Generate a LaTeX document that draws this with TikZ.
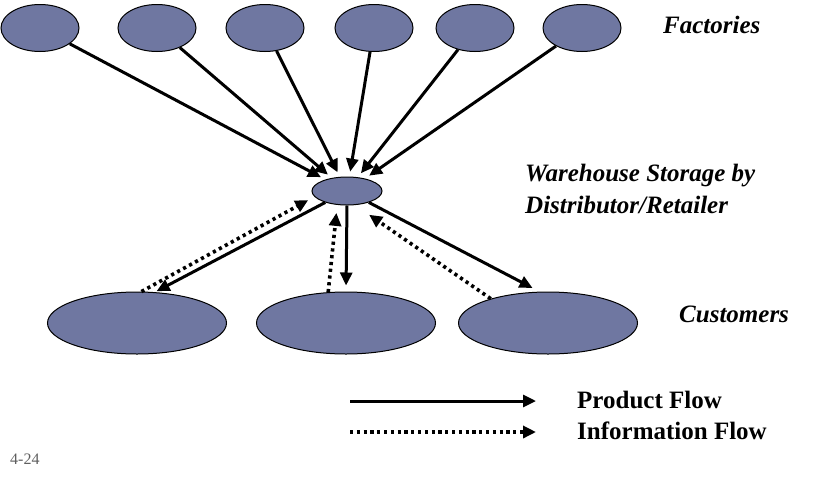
\documentclass[tikz,border=0pt]{standalone}
\usepackage{fontspec}
\setmainfont{Liberation Serif}
\usepackage{xcolor}
\usepackage{tikz}
\usetikzlibrary{arrows.meta,shapes.geometric}

\definecolor{siteblue}{RGB}{111,119,161}
\definecolor{pagegray}{RGB}{95,95,95}

\tikzset{
  site/.style={ellipse, draw=black, line width=1pt, fill=siteblue, inner sep=0pt},
  plant/.style={site, minimum width=78pt, minimum height=47pt},
  buyer/.style={site, minimum width=179pt, minimum height=62pt},
  flow/.style={line width=3pt, -{Triangle[length=13pt,width=12pt]}},
  info/.style={flow, line width=3.6pt, dash pattern=on 3.2pt off 3.6pt},
  tag/.style={font=\fontsize{25}{32}\selectfont\bfseries\itshape, anchor=base west, inner sep=0pt, align=left}
}

\begin{document}
\begin{tikzpicture}[x=1pt,y=-1pt]
  \useasboundingbox (0,0) rectangle (840,480);

  % Factories
  \node[plant] (f1) at (40,28) {};
  \node[plant] (f2) at (157,28) {};
  \node[plant] (f3) at (265,28) {};
  \node[plant] (f4) at (374,28) {};
  \node[plant] (f5) at (475,28) {};
  \node[plant] (f6) at (582,28) {};

  % Warehouse
  \node[site, minimum width=70pt, minimum height=28pt] (wh) at (347,191) {};

  % Customers
  \node[buyer] (c1) at (137,323) {};
  \node[buyer] (c2) at (346,323) {};
  \node[buyer] (c3) at (548,323) {};

  % product flow into the warehouse
  \foreach \f in {f1,f2,f3,f4,f5,f6}
    \draw[flow, shorten >=5pt] (\f) -- (wh);

  % product flow out to customers
  \draw[flow, shorten >=2pt] (wh) -- (c1.60);
  \draw[flow, shorten >=6pt] (wh.south) -- (c2.north);
  \draw[flow, shorten >=8pt] (wh) -- (c3.105);

  % information flow back
  \draw[info, shorten >=7pt] (c1.82) -- (wh.190);
  \draw[info, shorten >=8pt] (c2.120) -- (wh.235);
  \draw[info, shorten >=17pt] (c3.157) -- (wh.300);

  % labels
  \node[tag] (lfac) at (663,33) {Factories};
  \node[tag] (lwh) at (525,213) {Warehouse Storage by\\Distributor/Retailer};
  \node[tag] (lcus) at (679,322) {Customers};

  % legend
  \coordinate (pa) at (350,401);
  \coordinate (pb) at (536,401);
  \coordinate (ia) at (350,432);
  \coordinate (ib) at (536,432);
  \draw[flow] (pa) -- (pb);
  \draw[info] (ia) -- (ib);
  \node[tag, font=\fontsize{25}{32}\selectfont\bfseries] (lprod) at (577,408) {Product Flow};
  \node[tag, font=\fontsize{25}{32}\selectfont\bfseries] (linfo) at (577,439) {Information Flow};

  \node[anchor=base west, inner sep=0pt, text=pagegray, font=\fontsize{16}{18}\selectfont] (page) at (10,464) {4-24};
\end{tikzpicture}
\end{document}
